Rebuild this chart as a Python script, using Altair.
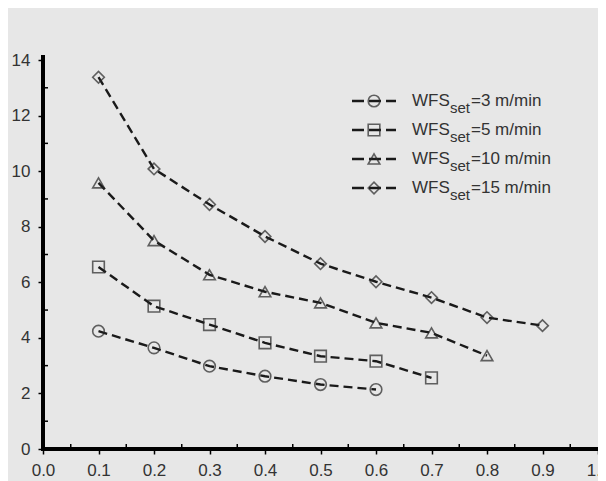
import altair as alt
import pandas as pd

# ---- data ----
x_vals = [0.1, 0.2, 0.3, 0.4, 0.5, 0.6, 0.7, 0.8, 0.9]
wfs3 = [4.24, 3.64, 2.98, 2.62, 2.32, 2.14]
wfs5 = [6.55, 5.14, 4.48, 3.82, 3.34, 3.16, 2.56]
wfs10 = [9.58, 7.50, 6.27, 5.66, 5.26, 4.54, 4.18, 3.36]
wfs15 = [13.38, 10.08, 8.80, 7.65, 6.67, 6.02, 5.45, 4.73, 4.44]
series_names = ["3", "5", "10", "15"]
series_values = [wfs3, wfs5, wfs10, wfs15]
shapes = ["circle", "square", "triangle-up", "diamond"]

x_ticks = [0.0, 0.1, 0.2, 0.3, 0.4, 0.5, 0.6, 0.7, 0.8, 0.9, 1.0]
x_minor = [0.05, 0.15, 0.25, 0.35, 0.45, 0.55, 0.65, 0.75, 0.85, 0.95]
y_ticks = [0, 2, 4, 6, 8, 10, 12, 14]
y_minor = [1, 3, 5, 7, 9, 11, 13]

rows = []
for name, vals in zip(series_names, series_values):
    for xv, yv in zip(x_vals, vals):
        rows.append({"series": name, "x": xv, "y": yv})
df = pd.DataFrame(rows)

BG = "#e7e7e7"
INK = "#1a1a1a"
MARK = "#262626"
FONT = "Liberation Sans"
W, H = 555, 389

xs = alt.Scale(domain=[0, 1], nice=False)
ys = alt.Scale(domain=[0, 14], nice=False)
shape_scale = alt.Scale(domain=series_names, range=shapes)

base = alt.Chart(df)

lines = base.mark_line(color=INK, strokeWidth=2.4, strokeDash=[9, 5]).encode(
    x=alt.X("x:Q", scale=xs,
            axis=alt.Axis(values=x_ticks, format=".1f", title=None, labelPadding=8)),
    y=alt.Y("y:Q", scale=ys,
            axis=alt.Axis(values=y_ticks, title=None, labelPadding=8)),
    detail="series:N",
)

points = base.mark_point(filled=False, size=135, strokeWidth=1.6, color=MARK).encode(
    x=alt.X("x:Q", scale=xs),
    y=alt.Y("y:Q", scale=ys, axis=None),
    shape=alt.Shape("series:N", scale=shape_scale, legend=None),
)

# thick axis lines and minor ticks (inside the axes)
one = pd.DataFrame({"k": [0]})
x_axis_line = alt.Chart(one).mark_rule(color="black", strokeWidth=4, strokeCap="square").encode(
    x=alt.value(0), x2=alt.value(W), y=alt.value(H))
y_axis_line = alt.Chart(one).mark_rule(color="black", strokeWidth=4, strokeCap="square").encode(
    x=alt.value(0), y=alt.value(-3), y2=alt.value(H))
xminor = alt.Chart(pd.DataFrame({"v": x_minor})).mark_rule(color="black", strokeWidth=1.5).encode(
    x=alt.X("v:Q", scale=xs), y=alt.value(H), y2=alt.value(H - 5))
yminor = alt.Chart(pd.DataFrame({"v": y_minor})).mark_rule(color="black", strokeWidth=1.5).encode(
    y=alt.Y("v:Q", scale=ys, axis=None), x=alt.value(0), x2=alt.value(5))

# custom legend with subscript text
leg = pd.DataFrame({
    "series": series_names,
    "label": ["=3 m/min", "=5 m/min", "=10 m/min", "=15 m/min"],
    "order": [0, 1, 2, 3],
})
row_y = alt.Scale(domain=[0, 3], range=[41, 128])
lb = alt.Chart(leg)
leg_line = lb.mark_rule(color=INK, strokeWidth=2.4, strokeDash=[12, 5]).encode(
    y=alt.Y("order:Q", scale=row_y, axis=None), x=alt.value(309), x2=alt.value(353))
leg_pt = lb.mark_point(filled=False, size=135, strokeWidth=1.6, color=MARK).encode(
    y=alt.Y("order:Q", scale=row_y, axis=None), x=alt.value(331),
    shape=alt.Shape("series:N", scale=shape_scale, legend=None))
leg_wfs = lb.mark_text(text="WFS", align="left", baseline="middle", font=FONT,
                       fontSize=17, color="#333333").encode(
    y=alt.Y("order:Q", scale=row_y, axis=None), x=alt.value(369))
leg_sub = lb.mark_text(text="set", align="left", baseline="middle", font=FONT,
                       fontSize=15, color="#333333", dy=7).encode(
    y=alt.Y("order:Q", scale=row_y, axis=None), x=alt.value(407))
leg_txt = lb.mark_text(align="left", baseline="middle", font=FONT,
                       fontSize=17, color="#333333").encode(
    y=alt.Y("order:Q", scale=row_y, axis=None), x=alt.value(428), text="label:N")

chart = alt.layer(lines, points, x_axis_line, y_axis_line, xminor, yminor, leg_line, leg_pt,
                  leg_wfs, leg_sub, leg_txt).resolve_scale(
    y="independent"
).properties(
    width=W, height=H,
    autosize=alt.AutoSizeParams(type="none"),
    padding={"left": 35, "top": 52, "right": 0, "bottom": 33},
    background=BG,
).configure_view(stroke=None).configure_axis(
    grid=False, domain=False, tickColor="black",
    tickWidth=1.5, tickSize=5, labelFontSize=17, labelFont=FONT,
    labelColor="#333333", labelFlush=False,
)

chart.save("out.html", embed_options={"renderer": "svg", "actions": False})
